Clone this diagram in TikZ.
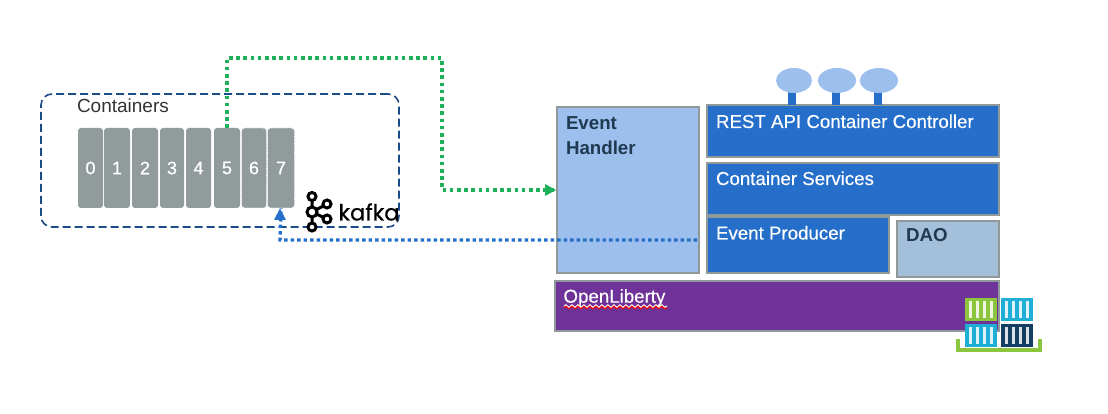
\documentclass[tikz,border=0pt]{standalone}
\usepackage{fontspec}
\setmainfont{Liberation Sans}
\newfontfamily\medfont[FakeBold=0.3]{Liberation Sans}
\newfontfamily\digitfont[FakeBold=0.8]{Liberation Sans}
\newfontfamily\kafkafont[FakeBold=0.4]{Poppins}
\usetikzlibrary{arrows.meta,decorations.pathmorphing,shapes.geometric}
\definecolor{cgray}{HTML}{929B9B}
\definecolor{bgray}{HTML}{8F9999}
\definecolor{mblue}{HTML}{256FCB}
\definecolor{lblue}{HTML}{9CBFED}
\definecolor{daob}{HTML}{A3BFDA}
\definecolor{purp}{HTML}{6F3298}
\definecolor{navy}{HTML}{1B4C8A}
\definecolor{gline}{HTML}{1DB25A}
\definecolor{dtext}{HTML}{1F3A50}
\definecolor{igreen}{HTML}{8CC63F}
\definecolor{icyan}{HTML}{1FAFD6}
\definecolor{inavy}{HTML}{123F63}
\newcommand{\fs}[1]{\fontsize{#1}{#1}\selectfont}
\tikzset{
  x=1pt,y=-1pt,
  every node/.style={inner sep=0pt,outer sep=0pt},
  cell/.style={anchor=north west,fill=cgray,rounded corners=3pt,text=white,font=\digitfont\fs{18}},
  celld/.style={cell,draw=white,densely dotted,line width=.8pt},
  layer/.style={anchor=north west,draw=bgray,line width=2pt},
  lab/.style={anchor=base west,text=white,font=\medfont\fs{18.7}},
  darklab/.style={anchor=base west,text=dtext,font=\fs{18.7}\bfseries},
  api/.style={ellipse,fill=lblue},
  stem/.style={anchor=north west,fill=mblue,minimum width=8pt,minimum height=13pt},
  kring/.style={circle,draw=black,line width=3pt,fill=white},
  tile/.style={anchor=north west,minimum width=32pt,minimum height=23pt},
  flowg/.style={draw=gline,line width=4pt,dash pattern=on 3.6pt off 3.6pt,-},
  flowb/.style={draw=mblue,line width=3.4pt,dash pattern=on 3.3pt off 3.2pt,-}
}
\begin{document}
\begin{tikzpicture}
\useasboundingbox (0,0) rectangle (1108,414);
% dashed group
\node[anchor=north west,draw=navy,line width=1.6pt,dash pattern=on 8pt off 4pt,rounded corners=11pt,minimum width=358pt,minimum height=133pt] (group) at (41,94) {};
\node[anchor=base west,text=black!80,font=\fs{19}] (ctitle) at (77,112.7) {Containers};
% cells
\node[cell,minimum width=25pt,minimum height=80pt] (c0) at (78,128) {0};
\node[cell,minimum width=26pt,minimum height=80pt] (c1) at (104,128) {1};
\node[cell,minimum width=26pt,minimum height=80pt] (c2) at (132,128) {2};
\node[cell,minimum width=24pt,minimum height=80pt] (c3) at (160,128) {3};
\node[cell,minimum width=25pt,minimum height=80pt] (c4) at (186,128) {4};
\node[cell,minimum width=26pt,minimum height=80pt] (c5) at (214,128) {5};
\node[celld,minimum width=25pt,minimum height=80pt] (c6) at (241.5,128) {6};
\node[celld,minimum width=27pt,minimum height=80pt] (c7) at (267.5,128) {7};
% kafka logo
\draw[line width=3pt] (312,197) -- (312,227) (312,212) -- (327,204) (312,212) -- (327,219);
\node[kring,minimum size=8pt] (k1) at (312,196.5) {};
\node[kring,minimum size=10pt] (k2) at (312,212) {};
\node[kring,minimum size=8pt] (k3) at (312,227) {};
\node[kring,minimum size=8pt] (k4) at (327,204) {};
\node[kring,minimum size=8pt] (k5) at (327,219) {};
\node[anchor=base west,text=black,font=\kafkafont\fs{22.5}] (kafka) at (338.5,220.5) {kafka};
% layers
\node[layer,fill=lblue,minimum width=142pt,minimum height=166pt] (handler) at (557,107) {};
\node[layer,fill=mblue,minimum width=292pt,minimum height=52pt] (rest) at (707,105) {};
\node[layer,fill=mblue,minimum width=292pt,minimum height=52pt] (services) at (707,163) {};
\node[layer,fill=mblue,minimum width=182pt,minimum height=56pt] (producer) at (707,217) {};
\node[layer,fill=daob,minimum width=102pt,minimum height=56pt] (dao) at (897,221) {};
\node[layer,fill=purp,minimum width=444pt,minimum height=50pt] (liberty) at (555,281) {};
\node[stem] (s1) at (788,92) {};
\node[stem] (s2) at (832,92) {};
\node[stem] (s3) at (874,92) {};
\node[api,minimum width=36pt,minimum height=25pt] (e1) at (794,80.5) {};
\node[api,minimum width=38pt,minimum height=25pt] (e2) at (837,80.5) {};
\node[api,minimum width=38pt,minimum height=25pt] (e3) at (879,80.5) {};
% labels
\node[darklab] (lh1) at (566,130) {Event};
\node[darklab] (lh2) at (566,154.3) {Handler};
\node[lab] (lr) at (716,128) {REST API Container Controller};
\node[lab] (ls) at (716,185) {Container Services};
\node[lab] (lp) at (716,239.5) {Event Producer};
\node[darklab] (ld) at (906,241.7) {DAO};
\node[lab] (ll) at (563.5,302.7) {OpenLiberty};
\draw[white,line width=1.6pt,decorate,decoration={snake,amplitude=1.3pt,segment length=6pt}] (564,306.5) -- (667,306.5);
\draw[red,line width=1.1pt,decorate,decoration={snake,amplitude=1.3pt,segment length=6pt}] (564,307.5) -- (667,307.5);
% connectors
\coordinate (g1) at (442,58);
\coordinate (b0) at (697,240);
\coordinate (b1) at (280,240);
\draw[flowg] (c5.north) |- (g1) |- (handler.west);
\fill[gline] (556,190) -- (545,184) -- (545,196) -- cycle;
\draw[flowb] (b0) -- (b1) -- (c7.south);
\fill[mblue] (280,208.5) -- (274,220) -- (286,220) -- cycle;
% container icon
\foreach \n/\x/\y/\c in {t1/965/298/igreen,t2/1001/298/icyan,t3/965/324/icyan,t4/1001/324/inavy}{
  \node[tile,fill=\c] (\n) at (\x,\y) {};
  \foreach \d in {4.3,11.3,18,24.7}{
    \fill[white!85!\c] (\x+\d,\y+3) rectangle (\x+\d+2.8,\y+20);
  }
}
\draw[igreen,line width=4pt] (958,339) -- (958,350) -- (1040,350) -- (1040,339);
\end{tikzpicture}
\end{document}
